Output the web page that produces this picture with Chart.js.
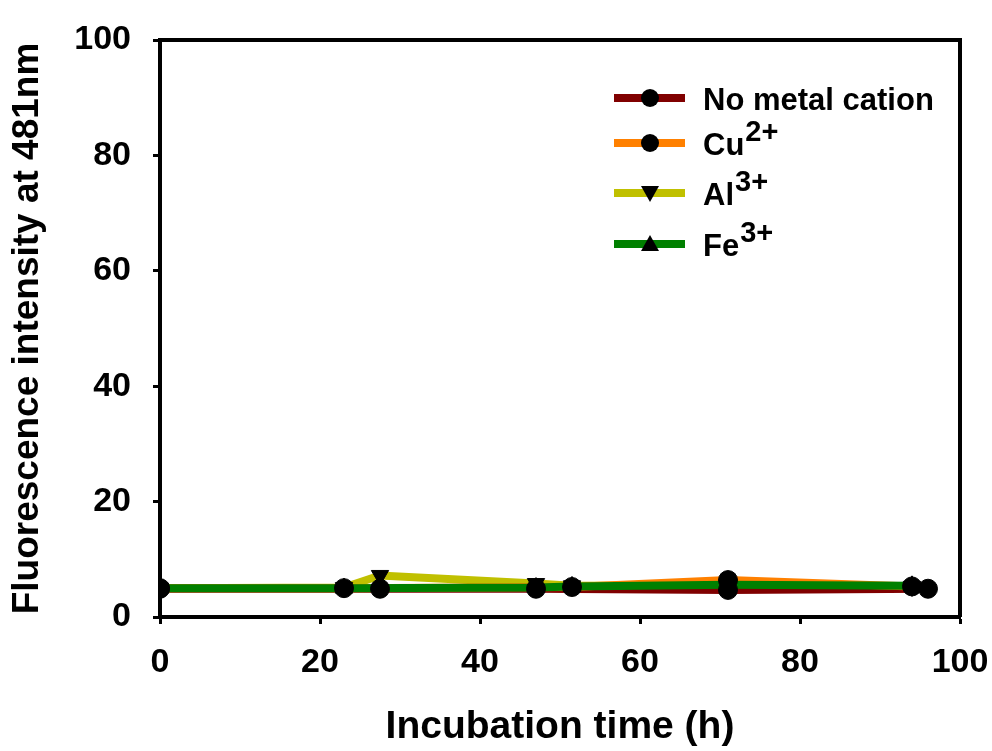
<!DOCTYPE html>
<html>
<head>
<meta charset="utf-8">
<script src="https://cdn.jsdelivr.net/npm/chart.js@4.4.1/dist/chart.umd.min.js"></script>
<style>
  html, body { margin: 0; padding: 0; background: #fff; }
  #wrap { width: 992px; height: 751px; }
</style>
</head>
<body>
<div id="wrap"><canvas id="chart"></canvas></div>
<script>
// series data
const seriesNames = ['No metal cation', 'Cu', 'Al', 'Fe'];
const seriesSup = ['', '2+', '3+', '3+'];
const seriesColors = ['#800000', '#FF8000', '#C0C000', '#008000'];
const seriesMarkers = ['circle', 'circle', 'down', 'up'];

const noMetalTime = [0, 27.5, 47, 71, 96];
const noMetalValues = [4.9, 4.9, 4.9, 4.7, 4.9];
const cuTime = [0, 23, 51.5, 71, 94];
const cuValues = [5.0, 5.0, 5.2, 6.4, 5.3];
const alTime = [0, 23, 27.5, 47, 51.5, 71, 94];
const alValues = [5.0, 5.1, 7.2, 5.8, 5.4, 5.5, 5.3];
const feTime = [0, 23, 47, 51.5, 71, 94];
const feValues = [5.0, 5.0, 5.1, 5.3, 5.6, 5.4];

const xTicks = [0, 20, 40, 60, 80, 100];
const yTicks = [0, 20, 40, 60, 80, 100];

const FONT = '"Liberation Sans", Arial, sans-serif';

const allTimes = [noMetalTime, cuTime, alTime, feTime];
const allValues = [noMetalValues, cuValues, alValues, feValues];

function pts(t, v) {
  return t.map((x, i) => ({ x: x, y: v[i] }));
}

function markerStyle(m) {
  if (m === 'down') return { pointStyle: 'triangle', rotation: 180, radius: 10 };
  if (m === 'up') return { pointStyle: 'triangle', rotation: 0, radius: 10 };
  return { pointStyle: 'circle', rotation: 0, radius: 9.5 };
}

// lines first (underneath), markers after (on top)
const lineOrder = [3, 2, 4, 1];
const datasets = [];
seriesNames.forEach((name, i) => {
  datasets.push({
    label: name,
    data: pts(allTimes[i], allValues[i]),
    borderColor: seriesColors[i],
    borderWidth: 8,
    pointRadius: 0,
    fill: false,
    tension: 0,
    order: 10 + lineOrder[i]
  });
});
seriesNames.forEach((name, i) => {
  const ms = markerStyle(seriesMarkers[i]);
  datasets.push({
    label: name + ' marker',
    data: pts(allTimes[i], allValues[i]),
    showLine: false,
    pointStyle: ms.pointStyle,
    rotation: ms.rotation,
    pointRadius: ms.radius,
    pointBackgroundColor: '#000',
    pointBorderColor: '#000',
    pointBorderWidth: 1,
    order: 8 - i
  });
});

function drawMarker(ctx, kind, x, y) {
  ctx.fillStyle = '#000';
  ctx.beginPath();
  if (kind === 'circle') {
    ctx.arc(x, y, 9, 0, Math.PI * 2);
  } else if (kind === 'down') {
    ctx.moveTo(x - 9, y - 7);
    ctx.lineTo(x + 9, y - 7);
    ctx.lineTo(x, y + 9);
  } else {
    ctx.moveTo(x - 9, y + 7);
    ctx.lineTo(x + 9, y + 7);
    ctx.lineTo(x, y - 9);
  }
  ctx.closePath();
  ctx.fill();
}

const framePlugin = {
  id: 'frame',
  afterDraw(chart) {
    const ctx = chart.ctx;
    const a = chart.chartArea;
    ctx.save();
    ctx.strokeStyle = '#000';
    ctx.lineWidth = 4;
    ctx.beginPath();
    ctx.moveTo(a.left, a.top);
    ctx.lineTo(a.right, a.top);
    ctx.lineTo(a.right, a.bottom);
    ctx.stroke();

    // legend with superscripts
    const rows = [98, 143, 193, 244];
    rows.forEach((y, i) => {
      ctx.strokeStyle = seriesColors[i];
      ctx.lineWidth = 8;
      ctx.beginPath();
      ctx.moveTo(614, y);
      ctx.lineTo(685, y);
      ctx.stroke();
      drawMarker(ctx, seriesMarkers[i], 650, y);
      ctx.fillStyle = '#000';
      ctx.textBaseline = 'alphabetic';
      ctx.textAlign = 'left';
      ctx.font = 'bold 31px ' + FONT;
      ctx.fillText(seriesNames[i], 703, y + 12);
      if (seriesSup[i]) {
        const w = ctx.measureText(seriesNames[i]).width;
        ctx.font = 'bold 29px ' + FONT;
        ctx.fillText(seriesSup[i], 703 + w + 1, y - 2);
      }
    });
    ctx.restore();
  }
};

new Chart(document.getElementById('chart'), {
  type: 'line',
  data: { datasets: datasets },
  options: {
    responsive: true,
    maintainAspectRatio: false,
    animation: false,
    events: [],
    layout: { padding: { top: 40, right: 32, left: 0, bottom: 0 } },
    plugins: {
      legend: { display: false },
      tooltip: { enabled: false }
    },
    scales: {
      x: {
        type: 'linear',
        min: 0,
        max: 100,
        afterFit: s => { s.height = 134; s.paddingLeft = 0; s.paddingRight = 0; },
        afterBuildTicks: s => { s.ticks = xTicks.map(v => ({ value: v })); },
        grid: { drawOnChartArea: false, drawTicks: true, tickLength: 7, tickWidth: 3, tickColor: '#000' },
        border: { display: true, color: '#000', width: 4 },
        ticks: { color: '#000', font: { family: FONT, size: 34, weight: 'bold' }, padding: 18, maxRotation: 0 },
        title: {
          display: true,
          text: 'Incubation time (h)',
          color: '#000',
          font: { family: FONT, size: 39, weight: 'bold' },
          padding: { top: 0, bottom: 0 }
        }
      },
      y: {
        type: 'linear',
        min: 0,
        max: 100,
        afterFit: s => { s.width = 160; s.paddingTop = 0; s.paddingBottom = 0; },
        afterBuildTicks: s => { s.ticks = yTicks.map(v => ({ value: v })); },
        grid: { drawOnChartArea: false, drawTicks: true, tickLength: 7, tickWidth: 3, tickColor: '#000' },
        border: { display: true, color: '#000', width: 4 },
        ticks: { color: '#000', font: { family: FONT, size: 34, weight: 'bold' }, padding: 22 },
        title: {
          display: true,
          text: 'Fluorescence intensity at 481nm',
          color: '#000',
          font: { family: FONT, size: 37, weight: 'bold' },
          padding: { top: 6, bottom: 0 }
        }
      }
    }
  },
  plugins: [framePlugin]
});
</script>
</body>
</html>
